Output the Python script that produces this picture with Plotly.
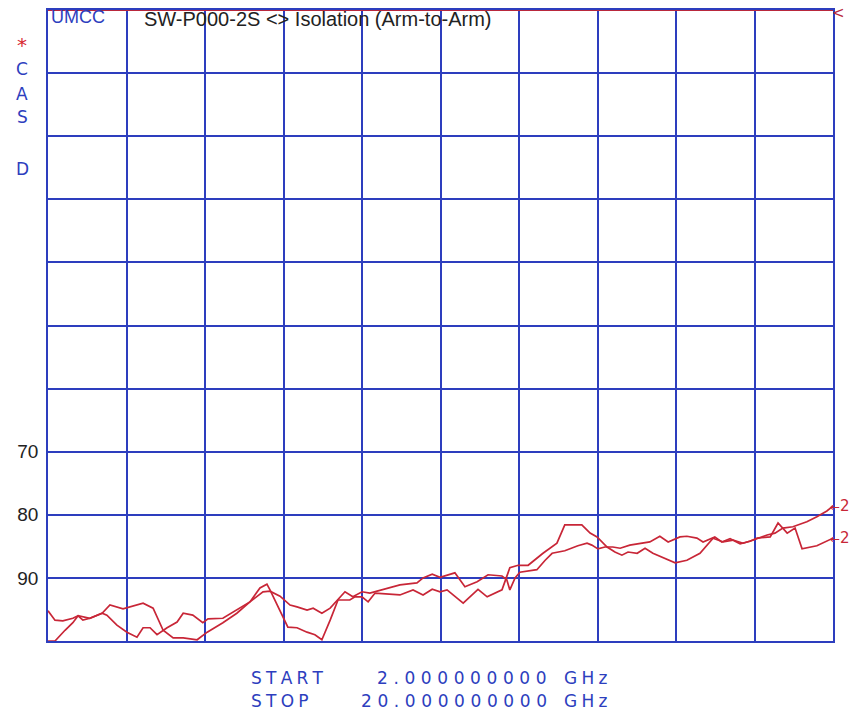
import plotly.graph_objects as go

# ---- data (frequency in GHz, isolation in dB, plotted 0 at top, 100 at bottom) ----
freq_a = [2.00, 2.16, 2.34, 2.57, 2.69, 2.80, 2.96, 3.24, 3.42, 3.72, 4.18, 4.41, 4.64, 4.87, 5.10,
          5.42, 5.65, 6.01, 6.33, 6.63, 6.93, 7.09, 7.32, 7.55, 7.71, 7.94, 8.08, 8.28, 8.47, 8.65,
          8.81, 8.99, 9.20, 9.38, 9.68, 10.07, 10.46, 10.60, 10.81, 10.99, 11.33, 11.56, 11.84, 12.09,
          12.41, 12.52, 12.59, 12.71, 12.82, 13.21, 13.40, 13.56, 13.85, 14.15, 14.36, 14.47, 14.61,
          14.77, 14.95, 15.12, 15.34, 15.57, 15.80, 16.03, 16.22, 16.49, 16.65, 16.88, 17.02, 17.29,
          17.45, 17.64, 17.87, 18.10, 18.26, 18.56, 18.74, 18.95, 19.13, 19.29, 19.63, 20.00]
iso_a = [95.2, 96.7, 96.8, 96.4, 96.0, 96.7, 96.4, 95.6, 94.3, 94.9, 94.0, 94.8, 98.3, 99.5, 99.5,
         99.8, 98.6, 97.1, 95.6, 93.8, 92.2, 92.1, 92.9, 94.3, 94.6, 95.1, 94.8, 95.6, 94.8, 93.5,
         92.2, 93.0, 92.2, 92.4, 91.8, 91.1, 90.8, 90.0, 89.4, 89.9, 89.2, 91.4, 90.6, 89.5,
         89.7, 90.3, 91.9, 90.0, 89.1, 88.7, 87.2, 86.1, 85.7, 84.9, 84.5, 84.8, 85.4,
         85.1, 85.1, 85.3, 84.8, 84.5, 84.3, 83.4, 84.3, 83.5, 83.4, 83.7, 84.3, 83.5,
         84.3, 83.8, 84.6, 84.2, 83.7, 83.5, 81.3, 82.9, 82.1, 85.4, 84.9, 83.7]

freq_b = [2.00, 2.16, 2.39, 2.57, 2.69, 2.96, 3.24, 3.35, 3.58, 3.81, 4.04, 4.18, 4.34, 4.50, 4.73,
          4.96, 5.10, 5.32, 5.55, 5.67, 6.01, 6.33, 6.63, 6.86, 7.02, 7.09, 7.32, 7.50, 7.71, 7.94,
          8.12, 8.28, 8.47, 8.65, 8.92, 9.04, 9.20, 9.34, 9.50, 9.84, 10.07, 10.37, 10.60, 10.81,
          10.99, 11.15, 11.52, 11.86, 12.07, 12.41, 12.59, 12.78, 13.01, 13.35, 13.67, 13.85, 14.04,
          14.24, 14.43, 14.59, 14.82, 15.00, 15.16, 15.30, 15.51, 15.69, 15.87, 16.10, 16.38, 16.65,
          16.95, 17.25, 17.48, 17.71, 17.94, 18.17, 18.49, 18.67, 18.85, 19.08, 19.40, 19.63, 19.86, 20.00]
iso_b = [100.0, 100.0, 98.3, 97.1, 96.0, 96.4, 95.6, 95.9, 97.5, 98.6, 99.4, 97.9, 97.9, 99.0, 97.9,
         97.0, 95.6, 95.9, 97.1, 96.5, 96.4, 95.1, 93.8, 91.6, 91.0, 91.9, 95.1, 97.8, 97.9, 98.6,
         99.0, 99.8, 96.7, 93.5, 93.5, 93.0, 93.0, 93.8, 92.4, 92.6, 92.7, 91.9, 92.7, 91.8,
         92.2, 91.9, 94.0, 91.8, 93.0, 91.9, 88.4, 88.0, 88.0, 86.1, 84.5, 81.6, 81.6,
         81.6, 82.9, 83.5, 85.1, 85.9, 86.4, 85.9, 86.1, 85.3, 86.1, 86.8, 87.6, 87.2,
         86.1, 83.7, 84.3, 84.0, 84.5, 84.0, 83.2, 82.9, 82.1, 81.9, 81.1, 80.3, 79.4, 78.6]

ref_freq = [2.0, 20.0]
ref_level = [0.0, 0.0]

y_ticks = [0, 10, 20, 30, 40, 50, 60, 70, 80, 90, 100]
y_ticklabels = ["", "", "", "", "", "", "", "70", "80", "90", ""]
x_ticks = [2.0, 3.8, 5.6, 7.4, 9.2, 11.0, 12.8, 14.6, 16.4, 18.2, 20.0]

side_letters = ["C", "A", "S", "D"]
side_letter_y = [69, 94, 117, 169]

GRID = "rgb(45,62,190)"
RED = "rgb(200,38,55)"

# page body has an 8px margin; size the figure so it fills the 858x715 window exactly
OFF = 8
W, H = 858 - OFF, 715 - OFF
PLOT_L, PLOT_R, PLOT_T, PLOT_B = 48, 833, 10, 641   # target pixel box in the window
L, T = PLOT_L - OFF, PLOT_T - OFF
R, B = 858 - PLOT_R, 715 - PLOT_B
PW, PH = PLOT_R - PLOT_L, PLOT_B - PLOT_T


def px(x):
    return (x - PLOT_L) / PW


def py(y):
    return 1 - (y - PLOT_T) / PH


def spaced(s, sep="\u2005"):
    return sep.join(s)


fig = go.Figure()
fig.add_trace(go.Scatter(x=ref_freq, y=ref_level, mode="lines",
                         line=dict(color="rgb(185,40,60)", width=1.8), cliponaxis=False,
                         showlegend=False, hoverinfo="skip"))
fig.add_trace(go.Scatter(x=freq_a, y=iso_a, mode="lines",
                         line=dict(color=RED, width=1.7), cliponaxis=False, showlegend=False))
fig.add_trace(go.Scatter(x=freq_b, y=iso_b, mode="lines",
                         line=dict(color=RED, width=1.7), cliponaxis=False, showlegend=False))

fig.update_xaxes(range=[2, 20], tickvals=x_ticks, showticklabels=False, showgrid=True,
                 gridcolor=GRID, gridwidth=1.7, zeroline=False, showline=True,
                 linecolor=GRID, linewidth=1.7, mirror=True, ticks="")
fig.update_yaxes(range=[100, 0], tickvals=y_ticks, ticktext=y_ticklabels, showgrid=True,
                 gridcolor=GRID, gridwidth=1.7, zeroline=False, showline=True,
                 linecolor=GRID, linewidth=1.7, mirror=True, ticks="",
                 tickfont=dict(family="Liberation Sans, Arial", size=19, color="#222"),
                 ticklabelstandoff=4)

ann = []
# reference-line marker at right end of top line
ann.append(dict(x=20, y=0, xref="x", yref="y", text="<", showarrow=False, xanchor="left",
                yanchor="top", xshift=-3, yshift=8,
                font=dict(family="DejaVu Sans", size=15, color="rgb(185,40,60)")))
# trace end markers
for fx, iv in ((freq_b[-1], iso_b[-1]), (freq_a[-1], iso_a[-1])):
    ann.append(dict(x=fx, y=iv, xref="x", yref="y",
                    text="<span style='font-size:12px'>←</span>2", showarrow=False,
                    xanchor="left", xshift=-4, borderpad=0,
                    font=dict(family="DejaVu Sans", size=15, color=RED)))
# header texts
ann.append(dict(x=px(49), y=py(17), xref="paper", yref="paper", text="UMCC", showarrow=False,
                xanchor="left", yanchor="middle",
                font=dict(family="Liberation Sans, Arial", size=18, color=GRID)))
ann.append(dict(x=px(142), y=py(19), xref="paper", yref="paper",
                text="SW-P000-2S <> Isolation (Arm-to-Arm)", showarrow=False,
                xanchor="left", yanchor="middle",
                font=dict(family="Liberation Sans, Arial", size=20, color="#222")))
# left side letters
ann.append(dict(x=px(22), y=py(45), xref="paper", yref="paper", text="*", showarrow=False,
                xanchor="center", yanchor="middle", borderpad=0,
                font=dict(family="DejaVu Sans", size=20, color="rgb(215,40,50)")))
for t, yy in zip(side_letters, side_letter_y):
    ann.append(dict(x=px(22), y=py(yy), xref="paper", yref="paper", text=t, showarrow=False,
                    xanchor="center", yanchor="middle", borderpad=0,
                    font=dict(family="DejaVu Sans", size=17, color=GRID)))
# start / stop block
bottom_rows = [("START", "2.000000000", 678), ("STOP", "20.000000000", 701)]
for lab, val, yy in bottom_rows:
    ann.append(dict(x=px(249), y=py(yy), xref="paper", yref="paper", text=spaced(lab),
                    showarrow=False, xanchor="left", yanchor="middle",
                    font=dict(family="DejaVu Sans", size=17, color=GRID)))
    ann.append(dict(x=px(549), y=py(yy), xref="paper", yref="paper", text=spaced(val, "\u2004"),
                    showarrow=False, xanchor="right", yanchor="middle",
                    font=dict(family="DejaVu Sans", size=17, color=GRID)))
    ann.append(dict(x=px(562), y=py(yy), xref="paper", yref="paper", text=spaced("GHz"),
                    showarrow=False, xanchor="left", yanchor="middle",
                    font=dict(family="DejaVu Sans", size=17, color=GRID)))

fig.update_layout(width=W, height=H,
                  margin=dict(l=L, r=R, t=T, b=B, autoexpand=False),
                  paper_bgcolor="white", plot_bgcolor="white", annotations=ann,
                  showlegend=False)

fig.write_html("out.html")
